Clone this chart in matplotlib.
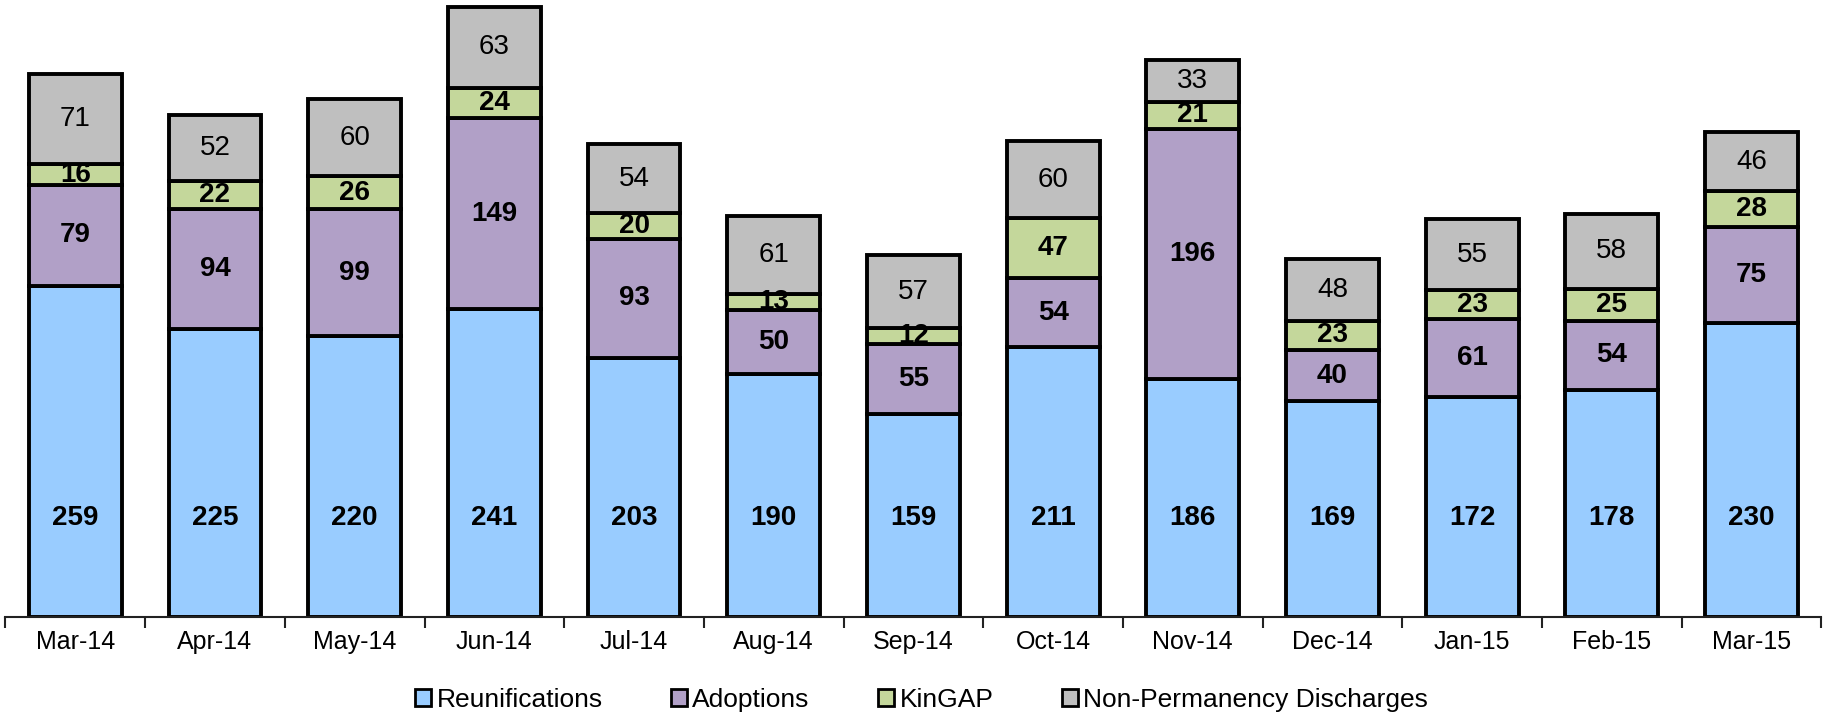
import matplotlib
matplotlib.use("Agg")
import matplotlib.pyplot as plt
import numpy as np

months = ["Mar-14", "Apr-14", "May-14", "Jun-14", "Jul-14", "Aug-14", "Sep-14",
          "Oct-14", "Nov-14", "Dec-14", "Jan-15", "Feb-15", "Mar-15"]
reunif = [259, 225, 220, 241, 203, 190, 159, 211, 186, 169, 172, 178, 230]
adopt = [79, 94, 99, 149, 93, 50, 55, 54, 196, 40, 61, 54, 75]
kingap = [16, 22, 26, 24, 20, 13, 12, 47, 21, 23, 23, 25, 28]
nonperm = [71, 52, 60, 63, 54, 61, 57, 60, 33, 48, 55, 58, 46]

series = [("Reunifications", reunif, "#99CCFF", "bold"),
          ("Adoptions", adopt, "#B1A0C7", "bold"),
          ("KinGAP", kingap, "#C4D79B", "bold"),
          ("Non-Permanency Discharges", nonperm, "#BFBFBF", "normal")]

plt.rcParams['font.family'] = ['Liberation Sans', 'DejaVu Sans']

fig = plt.figure(figsize=(18.25, 7.12), dpi=100)
ax = fig.add_axes([0.003, 0.133, 0.995, 0.866])

x = np.arange(len(months))
bottom = np.zeros(len(months))
handles = []
for i, (name, vals, col, wt) in enumerate(series):
    vals = np.array(vals)
    b = ax.bar(x, vals, 0.665, bottom=bottom, color=col, edgecolor="black",
               linewidth=2.8, label=name)
    handles.append(b)
    for xi, v, b0 in zip(x, vals, bottom):
        if i == 0:
            ypos = 78  # excel put these low in the bar
        else:
            ypos = b0 + v / 2
        ax.text(xi, ypos, str(v), ha="center", va="center", fontsize=20,
                fontweight=wt, color="black")
    bottom = bottom + vals

ax.set_xlim(-0.5, 12.5)
ax.set_ylim(0, 482)
for s in ["top", "right", "left"]:
    ax.spines[s].set_visible(False)
ax.spines["bottom"].set_linewidth(1.5)
ax.spines["bottom"].set_color("#222222")
ax.set_yticks([])
ax.set_xticks(x)
ax.set_xticklabels(months, fontsize=18)
ax.tick_params(axis="x", which="major", length=0, pad=9)
ax.set_xticks(np.arange(-0.5, 13, 1), minor=True)
ax.tick_params(axis="x", which="minor", length=8, width=1.5, color="#222222")

leg = fig.legend(handles=handles, loc="center", bbox_to_anchor=(0.505, 0.017),
                 ncol=4, frameon=False, fontsize=19, handlelength=0.6,
                 handleheight=0.6, handletextpad=0.2, columnspacing=2.6)
for h in leg.legend_handles:
    h.set_linewidth(2)

fig.savefig("out.png", dpi=100)
